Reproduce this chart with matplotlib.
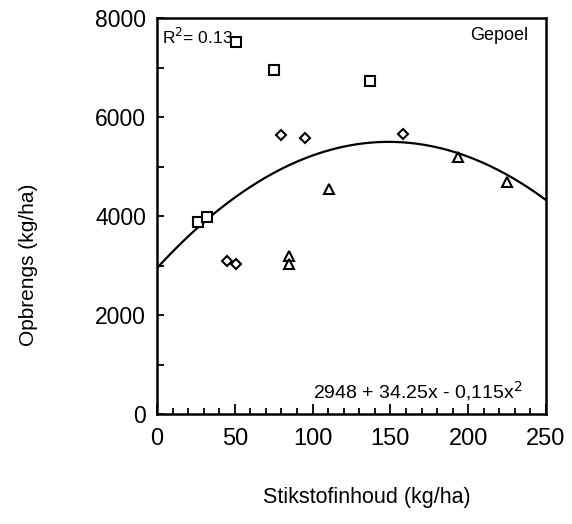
import numpy as np
import matplotlib
matplotlib.use("Agg")
import matplotlib.pyplot as plt
from matplotlib.ticker import MultipleLocator

plt.rcParams['font.family'] = ['Liberation Sans', 'DejaVu Sans']

# Data
sq_x = [26.6, 31.9, 50.8, 75.2, 137.0]
sq_y = [3880, 3975, 7510, 6945, 6730]
dia_x = [44.8, 51.0, 79.9, 94.9, 158.3]
dia_y = [3085, 3035, 5635, 5575, 5655]
tri_x = [85.0, 85.0, 110.7, 193.6, 224.7]
tri_y = [3190, 3025, 4540, 5200, 4695]

# Fitted quadratic coefficients shown on the chart
coef_a, coef_b, coef_c = 2948, 34.25, -0.115
x_range = [0, 250]

fig = plt.figure(figsize=(5.72, 5.24), dpi=100)
ax = fig.add_axes([0.2745, 0.2099, 0.6800, 0.7557])

xs = np.linspace(x_range[0], x_range[1], 300)
ax.plot(xs, coef_a + coef_b * xs + coef_c * xs ** 2, color='black', lw=1.6)

mk = dict(mfc='white', mec='black', mew=1.5, ls='none', color='black')
ax.plot(sq_x, sq_y, marker='s', ms=6.5, **mk)
ax.plot(dia_x, dia_y, marker='D', ms=5, **mk)
ax.plot(tri_x, tri_y, marker='^', ms=7, **mk)

ax.set_xlim(0, 250)
ax.set_ylim(0, 8000)
ax.xaxis.set_major_locator(MultipleLocator(50))
ax.xaxis.set_minor_locator(MultipleLocator(10))
ax.yaxis.set_major_locator(MultipleLocator(2000))
ax.yaxis.set_minor_locator(MultipleLocator(1000))
ax.tick_params(axis='both', which='both', direction='in', top=False, right=False)
ax.tick_params(axis='x', which='major', length=7, width=1.3, labelsize=17, pad=10)
ax.tick_params(axis='x', which='minor', length=4, width=1.3)
ax.tick_params(axis='y', which='major', length=5, width=1.3, labelsize=16.5, pad=8)
ax.tick_params(axis='y', which='minor', length=5, width=1.3)
for s in ax.spines.values():
    s.set_linewidth(1.8)

ax.set_xlabel('Stikstofinhoud (kg/ha)', fontsize=15.5, labelpad=30)
ax.xaxis.set_label_coords(0.54, -0.185)
ax.set_ylabel('Opbrengs (kg/ha)', fontsize=15, labelpad=40)
ax.yaxis.set_label_coords(-0.305, 0.376)

ax.text(0.014, 0.978, r'R$^2$= 0.13', transform=ax.transAxes, ha='left', va='top', fontsize=12.5)
ax.text(0.955, 0.978, 'Gepoel', transform=ax.transAxes, ha='right', va='top', fontsize=13)
ax.text(0.94, 0.028, r'2948 + 34.25x - 0,115x$^2$', transform=ax.transAxes, ha='right', va='bottom', fontsize=14)

fig.savefig('out.png', dpi=100)
